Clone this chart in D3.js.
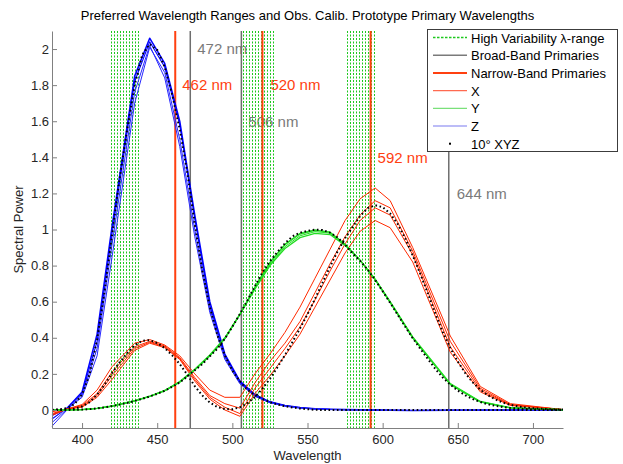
<!DOCTYPE html>
<html>
<head>
<meta charset="utf-8">
<script src="https://cdn.jsdelivr.net/npm/d3@7"></script>
<style>
  body { margin: 0; background: #fff; }
  text { font-family: "Liberation Sans", Arial, sans-serif; }
</style>
</head>
<body>
<div id="chart"></div>
<script>
// ---- data ----
// CIE 1964 10 degree colour matching functions (dotted black)
var cieWl = [380,385,390,395,400,405,410,415,420,425,430,435,440,445,450,455,460,465,470,475,
  480,485,490,495,500,505,510,515,520,525,530,535,540,545,550,555,560,565,570,575,
  580,585,590,595,600,605,610,615,620,625,630,635,640,645,650,655,660,665,670,675,
  680,685,690,695,700,705,710,715,720];
var cieX = [0.0002,0.0007,0.0024,0.0072,0.0191,0.0434,0.0847,0.1406,0.2045,0.2647,0.3147,0.3577,0.3837,0.3867,0.3707,0.3430,0.3023,0.2541,0.1956,0.1323,
  0.0805,0.0411,0.0162,0.0051,0.0038,0.0154,0.0375,0.0714,0.1177,0.1730,0.2365,0.3042,0.3768,0.4516,0.5298,0.6161,0.7052,0.7938,0.8787,0.9512,
  1.0142,1.0743,1.1185,1.1343,1.1240,1.0891,1.0305,0.9507,0.8563,0.7549,0.6475,0.5351,0.4316,0.3437,0.2683,0.2043,0.1526,0.1122,0.0813,0.0579,
  0.0409,0.0286,0.0199,0.0138,0.0096,0.0066,0.0046,0.0031,0.0022];
var cieY = [0.0000,0.0001,0.0003,0.0008,0.0020,0.0045,0.0088,0.0145,0.0214,0.0295,0.0387,0.0496,0.0621,0.0747,0.0895,0.1063,0.1282,0.1528,0.1852,0.2199,
  0.2536,0.2977,0.3391,0.3954,0.4608,0.5314,0.6067,0.6857,0.7618,0.8233,0.8752,0.9238,0.9620,0.9822,0.9918,0.9991,0.9973,0.9824,0.9556,0.9152,
  0.8689,0.8256,0.7774,0.7204,0.6583,0.5939,0.5280,0.4618,0.3981,0.3396,0.2835,0.2283,0.1798,0.1402,0.1076,0.0812,0.0603,0.0441,0.0318,0.0226,
  0.0159,0.0111,0.0077,0.0054,0.0037,0.0026,0.0018,0.0012,0.0008];
var cieZ = [0.0007,0.0029,0.0105,0.0323,0.0860,0.1971,0.3894,0.6568,0.9725,1.2825,1.5535,1.7985,1.9673,2.0273,1.9948,1.9007,1.7454,1.5549,1.3176,1.0302,
  0.7721,0.5701,0.4153,0.3024,0.2185,0.1592,0.1120,0.0822,0.0607,0.0431,0.0305,0.0206,0.0137,0.0079,0.0040,0.0011,0,0,0,0,
  0,0,0,0,0,0,0,0,0,0,0,0,0,0,0,0,0,0,0,0,
  0,0,0,0,0,0,0,0,0];

// individual observer calibrations (coarse wavelength grid)
var obsWl = [380,390,400,410,420,435,445,455,465,475,485,495,505,515,525,535,545,555,565,575,585,595,605,620,645,665,685,720];
var obsX1 = [-0.01,0.005,0.03,0.11,0.24,0.37,0.39,0.36,0.30,0.20,0.11,0.07,0.07,0.20,0.31,0.43,0.57,0.73,0.89,1.05,1.17,1.23,1.16,0.90,0.41,0.13,0.035,0.002];
var obsX2 = [-0.02,0.005,0.025,0.09,0.21,0.35,0.38,0.355,0.29,0.18,0.08,0.035,0.01,0.15,0.27,0.37,0.49,0.65,0.81,0.96,1.08,1.16,1.12,0.88,0.38,0.12,0.03,0.002];
var obsX3 = [-0.025,0.005,0.02,0.08,0.19,0.34,0.375,0.35,0.285,0.17,0.07,0.015,-0.02,0.12,0.23,0.34,0.46,0.61,0.77,0.92,1.05,1.12,1.08,0.86,0.35,0.11,0.028,0.002];
var obsX4 = [-0.03,0.005,0.015,0.07,0.17,0.33,0.37,0.345,0.28,0.16,0.06,0.0,-0.035,0.09,0.19,0.30,0.42,0.57,0.72,0.87,0.99,1.05,1.01,0.82,0.32,0.10,0.025,0.002];
var obsY1 = [0,0.0003,0.002,0.009,0.021,0.05,0.075,0.107,0.155,0.222,0.30,0.395,0.53,0.68,0.815,0.915,0.975,0.995,0.985,0.918,0.83,0.722,0.596,0.40,0.142,0.045,0.011,0.001];
var obsY2 = [0,0.0003,0.002,0.009,0.022,0.051,0.076,0.108,0.157,0.226,0.305,0.40,0.53,0.67,0.80,0.895,0.955,0.978,0.972,0.912,0.83,0.725,0.60,0.405,0.146,0.047,0.012,0.001];
var obsY3 = [0,0.0003,0.002,0.008,0.020,0.049,0.074,0.105,0.152,0.22,0.297,0.392,0.528,0.683,0.82,0.92,0.98,0.998,0.985,0.918,0.828,0.72,0.593,0.398,0.14,0.044,0.011,0.001];
var obsY4 = [0,0.0003,0.002,0.009,0.021,0.05,0.075,0.106,0.154,0.223,0.30,0.396,0.53,0.675,0.805,0.905,0.965,0.988,0.98,0.916,0.83,0.724,0.598,0.40,0.144,0.046,0.012,0.001];
var obsZ1 = [-0.03,0.01,0.10,0.42,1.02,1.85,2.06,1.92,1.60,1.08,0.60,0.31,0.16,0.085,0.045,0.025,0.013,0.007,0.004,0.002,0.001,0,-0.002,-0.003,-0.002,-0.001,0,0];
var obsZ2 = [-0.05,0.01,0.09,0.38,0.98,1.82,2.04,1.90,1.58,1.06,0.58,0.30,0.155,0.08,0.043,0.024,0.012,0.006,0.003,0.002,0.001,0,-0.002,-0.003,-0.002,-0.001,0,0];
var obsZ3 = [-0.07,0.005,0.07,0.30,0.85,1.70,2.01,1.87,1.50,1.00,0.56,0.29,0.15,0.078,0.04,0.022,0.011,0.005,0.003,0.001,0,0,-0.002,-0.003,-0.002,-0.001,0,0];
var obsZ4 = [-0.09,0.0,0.08,0.34,0.92,1.76,2.02,1.84,1.46,0.96,0.54,0.28,0.145,0.075,0.04,0.021,0.01,0.005,0.002,0.001,0,0,-0.002,-0.003,-0.002,-0.001,0,0];

// high variability wavelength ranges (dashed green lines)
var hvLines = [419,421,423,425,427,429,431,433,435,437,
  507,509,511,513,515,517,519,521,523,525,527,
  576,578,580,582,584,586,588,590,592,594];
// prototype primaries
var broadBand = [472, 506, 644];
var narrowBand = [462, 520, 592];

var xTicks = [400, 450, 500, 550, 600, 650, 700];
var yTicks = [0, 0.2, 0.4, 0.6, 0.8, 1, 1.2, 1.4, 1.6, 1.8, 2];

// ---- layout ----
var svgWidth = 623;
var svgHeight = 464;
var plot = { left: 52, right: 563, top: 31, bottom: 428 };

var redLine = "#ff4010";
var grayLine = "#6e6e6e";
var hvGreen = "#1ec81e";

var svg = d3.select("#chart")
  .append("svg")
  .attr("width", svgWidth)
  .attr("height", svgHeight);

var xScale = d3.scaleLinear().domain([380, 720]).range([plot.left, plot.right]);
var yScale = d3.scaleLinear().domain([-0.1, 2.1]).range([plot.bottom, plot.top]);

// primary labels (drawn first, lines go over them)
var primLabels = [
  { wl: 472, text: "472 nm", color: "#7a7a7a", dx: 7, y: 54 },
  { wl: 462, text: "462 nm", color: redLine, dx: 7, y: 90 },
  { wl: 520, text: "520 nm", color: redLine, dx: 8, y: 90 },
  { wl: 506, text: "506 nm", color: "#7a7a7a", dx: 7, y: 127 },
  { wl: 592, text: "592 nm", color: redLine, dx: 7, y: 163 },
  { wl: 644, text: "644 nm", color: "#7a7a7a", dx: 8, y: 199 }
];
svg.append("g").selectAll("text")
  .data(primLabels)
  .enter()
  .append("text")
  .attr("x", d => xScale(d.wl) + d.dx)
  .attr("y", d => d.y)
  .attr("font-size", 15)
  .attr("fill", d => d.color)
  .text(d => d.text);

// dashed green lines
svg.append("g").selectAll("line")
  .data(hvLines)
  .enter()
  .append("line")
  .attr("x1", d => Math.round(xScale(d)) + 0.5)
  .attr("x2", d => Math.round(xScale(d)) + 0.5)
  .attr("y1", plot.top)
  .attr("y2", plot.bottom)
  .attr("stroke", hvGreen)
  .attr("stroke-width", 1)
  .attr("stroke-dasharray", "2,1.5");

// broad band primaries
svg.append("g").selectAll("line")
  .data(broadBand)
  .enter()
  .append("line")
  .attr("x1", d => xScale(d))
  .attr("x2", d => xScale(d))
  .attr("y1", plot.top)
  .attr("y2", plot.bottom)
  .attr("stroke", grayLine)
  .attr("stroke-width", 1.5);

// narrow band primaries
svg.append("g").selectAll("line")
  .data(narrowBand)
  .enter()
  .append("line")
  .attr("x1", d => xScale(d))
  .attr("x2", d => xScale(d))
  .attr("y1", plot.top)
  .attr("y2", plot.bottom)
  .attr("stroke", redLine)
  .attr("stroke-width", 2);

// observer curves
var obsLine = d3.line()
  .x((d, i) => xScale(obsWl[i]))
  .y(d => yScale(d));

var obsSeries = [
  { vals: obsZ1, color: "#0000ff", w: 1.5 },
  { vals: obsZ2, color: "#0000ff", w: 1.1 },
  { vals: obsZ3, color: "#2828ff", w: 1 },
  { vals: obsZ4, color: "#2828ff", w: 1 },
  { vals: obsX1, color: "#ff2a00", w: 1 },
  { vals: obsX2, color: "#ff2a00", w: 1 },
  { vals: obsX3, color: "#ff2a00", w: 1 },
  { vals: obsX4, color: "#ff2a00", w: 1 },
  { vals: obsY1, color: "#22dd22", w: 1.3 },
  { vals: obsY2, color: "#22dd22", w: 1.3 },
  { vals: obsY3, color: "#22dd22", w: 1 },
  { vals: obsY4, color: "#22dd22", w: 1 }
];
svg.append("g").selectAll("path")
  .data(obsSeries)
  .enter()
  .append("path")
  .attr("d", d => obsLine(d.vals))
  .attr("fill", "none")
  .attr("stroke", d => d.color)
  .attr("stroke-width", d => d.w)
  .attr("stroke-linejoin", "round");

// 10 degree XYZ, dotted
var cieLine = d3.line()
  .x((d, i) => xScale(cieWl[i]))
  .y(d => yScale(d));

svg.append("g").selectAll("path")
  .data([cieX, cieY, cieZ])
  .enter()
  .append("path")
  .attr("d", d => cieLine(d))
  .attr("fill", "none")
  .attr("stroke", "#000")
  .attr("stroke-width", 2)
  .attr("stroke-dasharray", "1.6,2.6");

// axes
var xAxis = d3.axisBottom(xScale)
  .tickValues(xTicks)
  .tickSizeInner(-5)
  .tickSizeOuter(0)
  .tickPadding(7);
var yAxis = d3.axisLeft(yScale)
  .tickValues(yTicks)
  .tickSizeInner(-5)
  .tickSizeOuter(0)
  .tickPadding(3)
  .tickFormat(d3.format("~g"));

var gx = svg.append("g")
  .attr("transform", `translate(0, ${plot.bottom})`)
  .call(xAxis);
var gy = svg.append("g")
  .attr("transform", `translate(${plot.left}, 0)`)
  .call(yAxis);

[gx, gy].forEach(function(g) {
  g.select(".domain").attr("stroke", "#808080");
  g.selectAll(".tick line").attr("stroke", "#808080");
  g.selectAll(".tick text")
    .attr("fill", "#262626")
    .attr("font-size", 13)
    .attr("font-family", "Liberation Sans, Arial, sans-serif");
});

// titles
svg.append("text")
  .attr("x", (plot.left + plot.right) / 2)
  .attr("y", 20)
  .attr("text-anchor", "middle")
  .attr("font-size", 13)
  .attr("fill", "#000")
  .text("Preferred Wavelength Ranges and Obs. Calib. Prototype Primary Wavelengths");

svg.append("text")
  .attr("x", (plot.left + plot.right) / 2)
  .attr("y", 460)
  .attr("text-anchor", "middle")
  .attr("font-size", 13)
  .attr("fill", "#262626")
  .text("Wavelength");

svg.append("text")
  .attr("transform", `translate(23, ${(plot.top + plot.bottom) / 2}) rotate(-90)`)
  .attr("text-anchor", "middle")
  .attr("font-size", 13)
  .attr("fill", "#262626")
  .text("Spectral Power");

// legend
var legendItems = [
  { label: "High Variability \u03bb-range", color: hvGreen, w: 1.5, dash: "2.5,1.5" },
  { label: "Broad-Band Primaries", color: "#7a7a7a", w: 1.5 },
  { label: "Narrow-Band Primaries", color: redLine, w: 2 },
  { label: "X", color: "#ff6a50", w: 1.2 },
  { label: "Y", color: "#7ae07a", w: 1.2 },
  { label: "Z", color: "#7a7af0", w: 1.2 }
];

var legend = svg.append("g").attr("transform", "translate(427, 29)");
legend.append("rect")
  .attr("x", 0.5)
  .attr("y", 0.5)
  .attr("width", 190)
  .attr("height", 122)
  .attr("fill", "#fff")
  .attr("stroke", "#3c3c3c");

var rows = legend.selectAll("g.row")
  .data(legendItems.concat([{ label: "10\u00b0 XYZ", dot: true }]))
  .enter()
  .append("g")
  .attr("transform", (d, i) => `translate(0, ${8.5 + i * 17.7})`);

rows.filter(d => !d.dot)
  .append("line")
  .attr("x1", 6)
  .attr("x2", 40)
  .attr("y1", 0)
  .attr("y2", 0)
  .attr("stroke", d => d.color)
  .attr("stroke-width", d => d.w)
  .attr("stroke-dasharray", d => d.dash || null);

rows.filter(d => d.dot)
  .append("rect")
  .attr("x", 22)
  .attr("y", -1)
  .attr("width", 2)
  .attr("height", 2)
  .attr("fill", "#000");

rows.append("text")
  .attr("x", 44)
  .attr("y", 5)
  .attr("font-size", 13)
  .attr("fill", "#000")
  .text(d => d.label);
</script>
</body>
</html>
